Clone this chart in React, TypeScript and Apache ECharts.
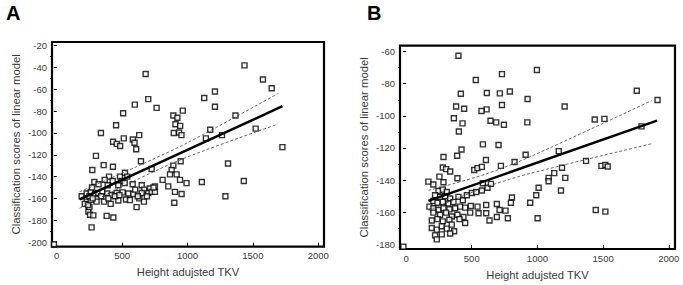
import React, { useEffect, useRef } from "react";
import * as echarts from "echarts";

const xTickLabels = [0, 500, 1000, 1500, 2000];
const yTicksA = [-20, -40, -60, -80, -100, -120, -140, -160, -180, -200];
const yMinorA = [-30, -50, -70, -90, -110, -130, -150, -170, -190];
const yTicksB = [-60, -80, -100, -120, -140, -160, -180];
const yMinorB = [-70, -90, -110, -130, -150, -170];

const pointsA: number[][] = [
  [300, -121], [359, -129.5], [430, -131], [272, -134], [644, -126], [726, -133], [892, -130], [879, -134],
  [866, -138], [917, -138], [948, -126], [400, -140], [484, -140], [522, -136.5], [540, -140], [367, -143],
  [428, -144], [288, -145], [497, -144], [520, -146], [581, -147], [471, -148], [810, -143], [943, -143],
  [993, -146], [191, -158], [229, -155.5], [260, -154], [293, -156], [318, -155], [349, -154], [387, -155.5],
  [420, -157], [458, -155], [504, -154.5], [548, -155.5], [586, -156], [650, -148], [670, -152], [713, -151],
  [751, -149], [650, -155], [700, -155], [726, -154], [751, -154], [853, -149], [904, -154], [955, -156],
  [229, -163], [260, -161.6], [305, -163], [362, -163], [413, -165], [471, -162], [530, -161], [560, -161.6],
  [632, -160], [667, -163], [242, -172], [255, -175], [280, -175.6], [382, -176], [433, -177.5], [611, -168],
  [899, -164], [267, -186.6],
  [680, -46], [700, -69], [764, -77], [597, -74], [508, -82], [454, -93], [338, -100], [1128, -68],
  [1210, -62], [1210, -76], [1141, -105], [1174, -97], [1264, -102], [1367, -84], [1521, -96], [1436, -38],
  [1577, -51], [1644, -59], [1726, -113], [1310, -128], [1431, -144], [1290, -158], [1110, -145],
  [892, -84], [923, -86], [908, -92], [895, -100], [936, -99.6], [944, -93.5], [954, -102], [964, -79.5],
  [513, -105], [582, -106], [595, -109], [608, -115], [631, -102], [431, -108], [459, -110], [485, -112],
  [215, -165], [250, -158], [275, -160], [340, -158], [395, -160], [445, -158], [480, -157], [600, -152],
  [620, -158], [690, -158], [740, -150], [270, -150], [320, -147], [390, -148], [250, -168], [240, -166],
  [-21, -202],
];

const pointsB: number[][] = [
  [399, -62.6], [996, -71.4], [730, -74], [531, -77.7], [417, -86.2], [615, -85.8], [714, -86], [790, -84.8],
  [925, -89.5], [730, -93.3], [381, -94.2], [442, -95.6], [613, -96], [574, -97], [1207, -94.2], [1756, -84.4],
  [1914, -90.1], [364, -101.5], [430, -104.7], [643, -103.1], [686, -104.1], [745, -105.6], [923, -104.1],
  [402, -109.8], [1436, -102.3], [1510, -101.9], [1792, -106.6], [585, -117.8], [704, -118.2], [422, -121],
  [1162, -122], [285, -125.7], [389, -124.9], [910, -124.3], [608, -127.5], [826, -128.8], [1370, -128.1],
  [280, -132.2], [305, -133.2], [336, -134.7], [254, -137.9], [391, -138.9], [170, -141], [208, -142.8],
  [519, -133.8], [544, -132.6], [577, -131.8], [722, -131.2], [585, -142], [285, -141.4], [247, -146.9],
  [280, -146], [310, -147.5], [221, -149.5], [259, -150.5], [297, -150.1], [336, -151.5], [208, -153],
  [239, -154.2], [280, -153.6], [323, -154.6], [361, -153.6], [399, -150.5], [432, -152.6], [463, -149.5],
  [501, -148.1], [534, -147.5], [577, -146.5], [620, -144.8], [646, -142.4], [178, -156.6], [208, -157.6],
  [247, -158.7], [285, -157.6], [330, -158.3], [374, -157.6], [412, -156.6], [450, -157.2], [493, -156.2],
  [544, -156.6], [610, -155.6], [691, -155], [712, -158.7], [757, -159.1], [806, -150.9], [798, -154.2],
  [691, -163.1], [775, -163.8], [635, -165.2], [208, -160.3], [259, -161.7], [305, -160.3], [348, -162.7],
  [391, -161.7], [437, -163.1], [488, -160.3], [552, -160.7], [610, -160.7], [196, -165.2], [239, -164.4],
  [280, -165.8], [330, -164.8], [407, -164.4], [450, -166.8], [196, -169.9], [234, -170.9], [272, -168.8],
  [310, -170.3], [348, -167.8], [366, -171.9], [221, -174.5], [272, -173.9], [336, -173.3], [234, -177],
  [945, -154.2], [991, -149.5], [1001, -163.8], [1009, -144.8],
  [1487, -131.2], [1517, -130.6], [1535, -131.6], [1187, -132.4], [1128, -135.7], [1085, -138.7],
  [1085, -140.8], [1212, -138.7], [1179, -146.5], [1444, -158.7], [1517, -159.7],
  [-20, -181.5],
];

const fitA = [[175, -161], [1726, -75.5]];
const upperA = [[175, -154], [600, -131.5], [1000, -109], [1690, -64]];
const lowerA = [[175, -169], [600, -143.5], [1000, -122], [1690, -92]];
const fitB = [[170, -153], [1910, -103]];
const upperB = [[170, -146.5], [600, -136.5], [945, -125.5], [1870, -90.5]];
const lowerB = [[170, -159], [600, -144.6], [945, -135.9], [1870, -117.4]];

const FONT = "Liberation Sans, Arial, sans-serif";
const TXT = "#3a3a3a";

function xAxis(gridIndex: number, min: number, max: number, margin: number) {
  return {
    type: "value", gridIndex, min, max,
    axisLine: { show: false },
    splitLine: { show: false },
    axisTick: { show: true, inside: true, length: 4, customValues: [500, 1000, 1500, 2000], lineStyle: { color: "#000", width: 1 } },
    axisLabel: { customValues: xTickLabels, margin, fontSize: 9.5, color: TXT, fontFamily: FONT, formatter: (v: number) => String(v) },
    name: "Height adujsted TKV", nameLocation: "middle", nameGap: 20,
    nameTextStyle: { fontSize: 11.2, color: TXT, fontFamily: FONT },
  };
}

function yAxes(gridIndex: number, min: number, max: number, ticks: number[], minor: number[], nameGap: number) {
  return [
    {
      type: "value", gridIndex, min, max,
      axisLine: { show: false },
      splitLine: { show: false },
      axisTick: { show: true, length: 3, customValues: ticks, lineStyle: { color: "#000", width: 1 } },
      axisLabel: { customValues: ticks, margin: 5, fontSize: 9.5, color: TXT, fontFamily: FONT, formatter: (v: number) => String(v) },
      name: "Classification scores of linear model", nameLocation: "middle", nameGap,
      nameTextStyle: { fontSize: 11.3, color: TXT, fontFamily: FONT },
    },
    {
      type: "value", gridIndex, min, max, position: "left",
      axisLine: { show: false },
      splitLine: { show: false },
      axisTick: { show: true, length: 2, customValues: minor, lineStyle: { color: "#000", width: 1 } },
      axisLabel: { show: false },
    },
  ];
}

function scatter(data: number[][], xi: number, yi: number) {
  return {
    type: "scatter", data, xAxisIndex: xi, yAxisIndex: yi,
    symbol: "rect", symbolSize: 5,
    itemStyle: { color: "#fff", borderColor: "#000", borderWidth: 1.4 },
    z: 2,
  };
}

function line(data: number[][], xi: number, yi: number, width: number, dashed: boolean) {
  return {
    type: "line", data, xAxisIndex: xi, yAxisIndex: yi,
    showSymbol: false, smooth: dashed ? 0.3 : false,
    lineStyle: dashed ? { color: "#444", width: 0.8, type: [3, 2] } : { color: "#000", width: width },
    z: 3,
  };
}

export default function App() {
  const ref = useRef<HTMLDivElement>(null);
  useEffect(() => {
    if (!ref.current) return;
    const chart = echarts.init(ref.current, undefined, { renderer: "svg" });
    const [yA0, yA1] = yAxes(0, -204.3, -16.6, yTicksA, yMinorA, 31);
    const [yB0, yB1] = yAxes(1, -183, -56.3, yTicksB, yMinorB, 31);
    chart.setOption({
      animation: false,
      backgroundColor: "#fff",
      grid: [
        { left: 52, top: 42, width: 272, height: 204.7, show: true, borderColor: "#000", borderWidth: 2.2, backgroundColor: "transparent" },
        { left: 400, top: 45.7, width: 275, height: 207.6, show: true, borderColor: "#000", borderWidth: 2.2, backgroundColor: "transparent" },
      ],
      xAxis: [xAxis(0, -36, 2044, 4), xAxis(1, -46, 2047, 4.5)],
      yAxis: [yA0, yA1, yB0, yB1],
      graphic: [
        { type: "text", left: 6, top: 3, style: { text: "A", font: "bold 20px " + FONT, fill: "#000" } },
        { type: "text", left: 367, top: 3, style: { text: "B", font: "bold 20px " + FONT, fill: "#000" } },
      ],
      series: [
        scatter(pointsA, 0, 0),
        line(fitA, 0, 0, 2.5, false),
        line(upperA, 0, 0, 0.8, true),
        line(lowerA, 0, 0, 0.8, true),
        scatter(pointsB, 1, 2),
        line(fitB, 1, 2, 2.5, false),
        line(upperB, 1, 2, 0.8, true),
        line(lowerB, 1, 2, 0.8, true),
      ],
    });
    return () => chart.dispose();
  }, []);
  return (
    <div
      ref={ref}
      style={{ position: "absolute", left: 0, top: 0, width: 683, height: 285, background: "#fff" }}
    />
  );
}
